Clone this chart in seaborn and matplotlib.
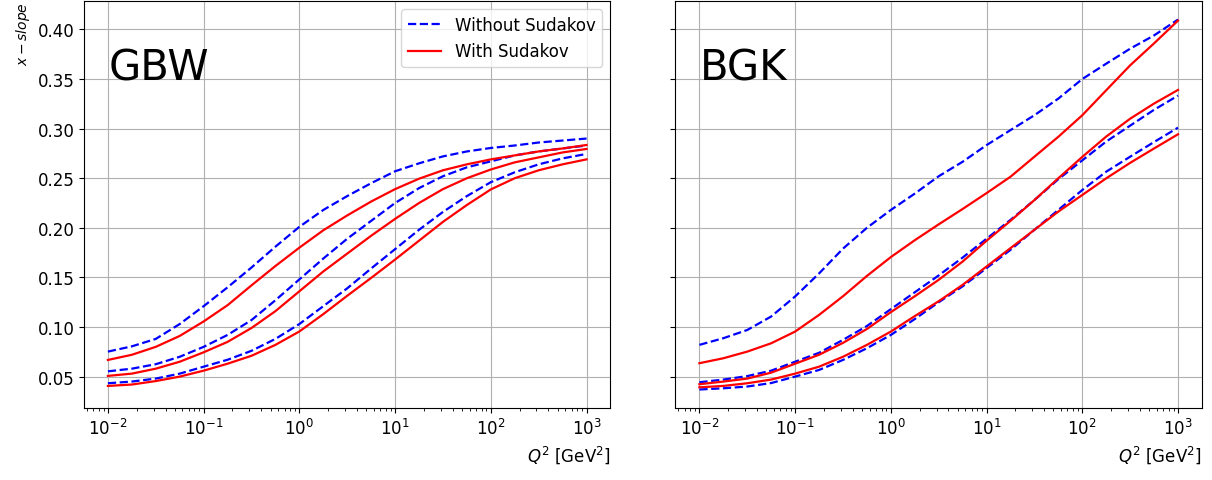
import numpy as np
import pandas as pd
import matplotlib
matplotlib.use("Agg")
import matplotlib.pyplot as plt
import seaborn as sns

# log10(Q^2) sample points, quarter-decade spacing, Q^2 in GeV^2
log_q2 = [-2.0, -1.75, -1.5, -1.25, -1.0, -0.75, -0.5, -0.25, 0.0, 0.25, 0.5,
          0.75, 1.0, 1.25, 1.5, 1.75, 2.0, 2.25, 2.5, 2.75, 3.0]
q2 = [10 ** v for v in log_q2]

# GBW panel
gbw_no_sud_1 = [0.0752, 0.0805, 0.0880, 0.1030, 0.1210, 0.1400, 0.1600, 0.1810, 0.2010, 0.2180, 0.2320,
                0.2450, 0.2570, 0.2650, 0.2720, 0.2770, 0.2805, 0.2830, 0.2860, 0.2880, 0.2900]
gbw_no_sud_2 = [0.0553, 0.0580, 0.0625, 0.0700, 0.0800, 0.0920, 0.1070, 0.1270, 0.1480, 0.1690, 0.1890,
                0.2070, 0.2250, 0.2400, 0.2520, 0.2610, 0.2670, 0.2730, 0.2770, 0.2800, 0.2830]
gbw_no_sud_3 = [0.0433, 0.0450, 0.0480, 0.0530, 0.0600, 0.0670, 0.0760, 0.0880, 0.1030, 0.1210, 0.1390,
                0.1590, 0.1785, 0.1980, 0.2160, 0.2320, 0.2460, 0.2560, 0.2640, 0.2700, 0.2745]
gbw_sud_1 = [0.0668, 0.0720, 0.0800, 0.0910, 0.1056, 0.1220, 0.1420, 0.1615, 0.1800, 0.1975, 0.2125,
             0.2265, 0.2390, 0.2495, 0.2580, 0.2640, 0.2690, 0.2730, 0.2770, 0.2800, 0.2835]
gbw_sud_2 = [0.0507, 0.0530, 0.0580, 0.0650, 0.0745, 0.0850, 0.0990, 0.1160, 0.1360, 0.1560, 0.1740,
             0.1920, 0.2090, 0.2250, 0.2390, 0.2500, 0.2588, 0.2660, 0.2710, 0.2760, 0.2795]
gbw_sud_3 = [0.0406, 0.0420, 0.0455, 0.0500, 0.0560, 0.0630, 0.0710, 0.0820, 0.0955, 0.1130, 0.1315,
             0.1495, 0.1680, 0.1870, 0.2060, 0.2230, 0.2387, 0.2500, 0.2580, 0.2640, 0.2690]

# BGK panel
bgk_no_sud_1 = [0.0820, 0.0887, 0.0970, 0.1106, 0.1308, 0.1540, 0.1790, 0.2000, 0.2180, 0.2345, 0.2520,
                0.2666, 0.2834, 0.2985, 0.3135, 0.3303, 0.3500, 0.3655, 0.3806, 0.3940, 0.4100]
bgk_no_sud_2 = [0.0443, 0.0470, 0.0505, 0.0560, 0.0650, 0.0740, 0.0870, 0.1010, 0.1180, 0.1350, 0.1520,
                0.1700, 0.1890, 0.2080, 0.2280, 0.2490, 0.2680, 0.2870, 0.3030, 0.3190, 0.3333]
bgk_no_sud_3 = [0.0370, 0.0382, 0.0400, 0.0435, 0.0500, 0.0567, 0.0668, 0.0786, 0.0920, 0.1080, 0.1250,
                0.1410, 0.1594, 0.1778, 0.1980, 0.2181, 0.2381, 0.2566, 0.2717, 0.2865, 0.3010]
bgk_sud_1 = [0.0635, 0.0685, 0.0752, 0.0836, 0.0954, 0.1122, 0.1310, 0.1515, 0.1705, 0.1875, 0.2035,
             0.2190, 0.2350, 0.2515, 0.2717, 0.2918, 0.3135, 0.3387, 0.3638, 0.3860, 0.4089]
bgk_sud_2 = [0.0423, 0.0450, 0.0480, 0.0540, 0.0630, 0.0720, 0.0840, 0.0980, 0.1150, 0.1310, 0.1476,
             0.1660, 0.1870, 0.2070, 0.2280, 0.2500, 0.2715, 0.2920, 0.3100, 0.3253, 0.3390]
bgk_sud_3 = [0.0392, 0.0406, 0.0433, 0.0470, 0.0530, 0.0600, 0.0700, 0.0820, 0.0954, 0.1110, 0.1260,
             0.1425, 0.1610, 0.1795, 0.1980, 0.2164, 0.2331, 0.2499, 0.2655, 0.2800, 0.2943]

panels = [
    ("GBW", [gbw_no_sud_1, gbw_no_sud_2, gbw_no_sud_3], [gbw_sud_1, gbw_sud_2, gbw_sud_3]),
    ("BGK", [bgk_no_sud_1, bgk_no_sud_2, bgk_no_sud_3], [bgk_sud_1, bgk_sud_2, bgk_sud_3]),
]

plt.rcParams.update(matplotlib.rcParamsDefault)
plt.rcParams['font.family'] = ['DejaVu Sans']

fig, axes = plt.subplots(1, 2, figsize=(12.12, 4.81), dpi=100, sharey=True)
fig.subplots_adjust(left=0.0693, right=0.9917, top=0.9958, bottom=0.1497, wspace=0.1235)

for ax, (name, no_sud, sud) in zip(axes, panels):
    for i, ys in enumerate(no_sud):
        sns.lineplot(x=q2, y=ys, ax=ax, color="blue", linestyle="--", linewidth=1.6,
                     label="Without Sudakov" if i == 0 else None, legend=False)
    for i, ys in enumerate(sud):
        sns.lineplot(x=q2, y=ys, ax=ax, color="red", linestyle="-", linewidth=1.6,
                     label="With Sudakov" if i == 0 else None, legend=False)
    ax.set_xscale("log")
    ax.grid(True)
    ax.tick_params(axis="both", which="major", labelsize=12)
    ax.text(0.046, 0.806, name, transform=ax.transAxes, fontsize=30, va="baseline", ha="left")
    ax.set_xlabel("$Q^2$ [GeV$^2$]", loc="right", fontsize=12)
    ax.set_ylabel("")

axes[0].set_ylabel("$x-slope$", loc="top", fontsize=10)
axes[0].legend(loc="upper right", fontsize=12)

fig.savefig("out.png", dpi=100)
